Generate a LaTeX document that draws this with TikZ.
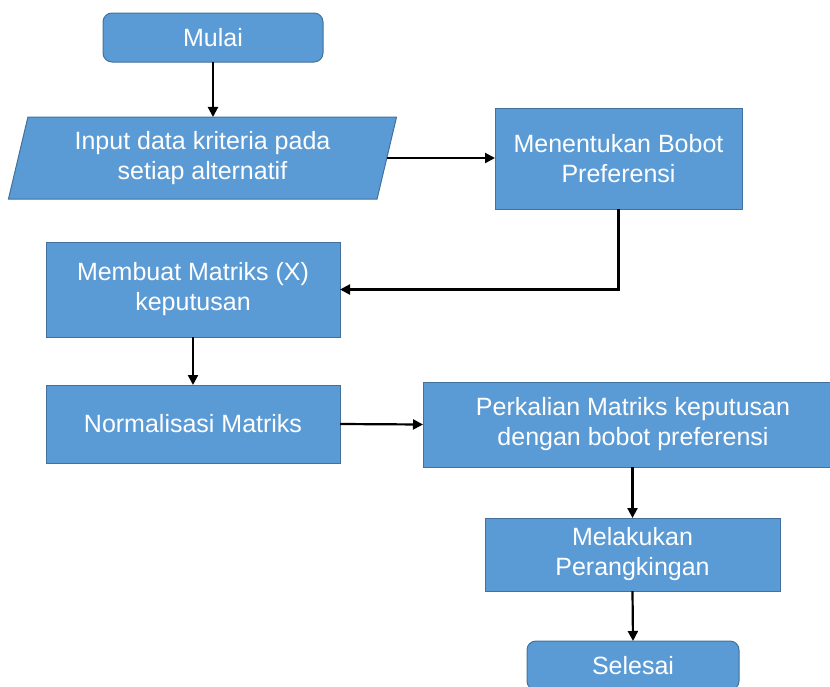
\documentclass[tikz,border=0pt]{standalone}
\usepackage{fontspec}
\setmainfont{Liberation Sans}
\usetikzlibrary{shapes.geometric,arrows.meta}
\definecolor{boxfill}{HTML}{5B9BD5}
\definecolor{boxline}{HTML}{41719C}
\tikzset{
  flowbox/.style={draw=boxline, fill=boxfill, line width=1pt, text=white, align=center,
    font=\fontsize{25}{30}\selectfont, inner sep=0pt, outer sep=0pt},
  termbox/.style={flowbox, rounded corners=9pt},
  iobox/.style={flowbox, trapezium, trapezium left angle=75, trapezium right angle=105,
    trapezium stretches=true},
  flowarrow/.style={line width=2.2pt, -{Triangle[length=10pt,width=10pt]}}
}
\begin{document}
\begin{tikzpicture}[x=1pt,y=-1pt]
\useasboundingbox (0,0) rectangle (830,686);
\clip (0,0) rectangle (830,686);
\node[termbox, minimum width=220pt, minimum height=49pt] (mulai) at (213,37.5) {Mulai};
\node[iobox, minimum width=389pt, minimum height=82pt] (inp) at (202.5,158) {Input data kriteria pada\\setiap alternatif};
\node[flowbox, minimum width=247pt, minimum height=101pt] (bobot) at (618.5,158.5) {Menentukan Bobot\\Preferensi};
\node[flowbox, minimum width=294pt, minimum height=95pt] (matriks) at (193,289.5) {Membuat Matriks (X)\\keputusan};
\node[flowbox, minimum width=294pt, minimum height=78pt] (norm) at (193,424) {Normalisasi Matriks};
\node[flowbox, minimum width=420pt, minimum height=85pt] (kali) at (633,424.5) {Perkalian Matriks keputusan\\dengan bobot preferensi};
\node[flowbox, minimum width=295pt, minimum height=73pt] (rank) at (632.5,554.5) {Melakukan\\Perangkingan};
\node[termbox, minimum width=212pt, minimum height=49pt] (selesai) at (633,665.5) {Selesai};
\draw[flowarrow] (mulai.south) -- (mulai.south |- inp.north);
\draw[flowarrow] (inp.east) -- (bobot.west |- inp.east);
\draw[flowarrow] (bobot.south) |- (matriks.east);
\draw[flowarrow] (matriks.south) -- (norm.north);
\draw[flowarrow] (norm.east) -- (kali.west);
\draw[flowarrow] (rank.north |- kali.south) -- (rank.north);
\draw[flowarrow] (rank.south) -- (selesai.north);
\end{tikzpicture}
\end{document}
